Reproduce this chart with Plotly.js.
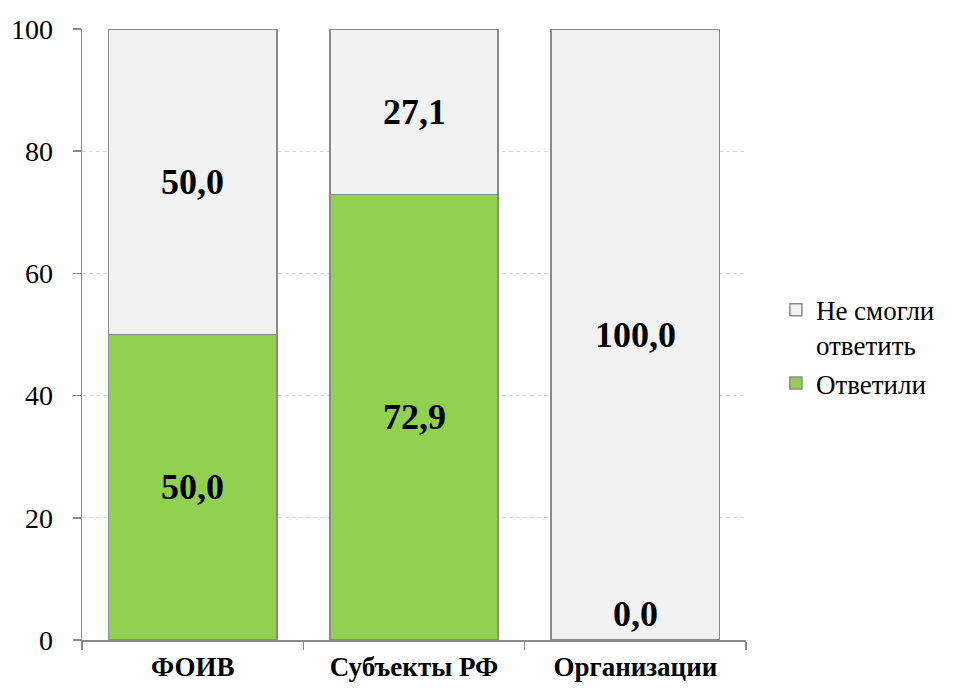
<!DOCTYPE html>
<html>
<head>
<meta charset="utf-8">
<script src="https://cdn.plot.ly/plotly-3.0.1.min.js"></script>
<style>html,body{margin:0;padding:0;background:#fff;}#chart{width:959px;height:693px;}</style>
</head>
<body>
<div id="chart"></div>
<script>
const categories = ["ФОИВ", "Субъекты РФ", "Организации"];
const answered = [50.0, 72.9, 0.0];
const notAnswered = [50.0, 27.1, 100.0];
const seriesNames = ["Ответили", "Не смогли<br>ответить"];
const yTicks = [0, 20, 40, 60, 80, 100];

const FONT = 'Times New Roman, Liberation Serif, DejaVu Serif';
const fmt = v => v.toFixed(1).replace('.', ',');

const traces = [
  {type: 'bar', x: categories, y: answered, name: seriesNames[0],
   marker: {color: '#92d050', line: {color: '#8a8a8a', width: 1.5}}, hoverinfo: 'none'},
  {type: 'bar', x: categories, y: notAnswered, name: seriesNames[1],
   marker: {color: '#f2f2f2', line: {color: '#8a8a8a', width: 1.5}}, hoverinfo: 'none'}
];

const annotations = [];
categories.forEach((c, i) => {
  let base = 0;
  [answered, notAnswered].forEach(arr => {
    const v = arr[i];
    if (v === 0) {
      annotations.push({x: c, y: base, yanchor: 'bottom', yshift: 4, text: '<b>' + fmt(v) + '</b>',
        showarrow: false, font: {family: FONT, size: 36, color: '#000'}});
    } else {
      annotations.push({x: c, y: base + v / 2, yanchor: 'middle', text: '<b>' + fmt(v) + '</b>',
        showarrow: false, font: {family: FONT, size: 36, color: '#000'}});
    }
    base += v;
  });
});

const layout = {
  width: 959, height: 693,
  margin: {l: 82, r: 213, t: 29, b: 53},
  barmode: 'stack', bargap: 0.24,
  paper_bgcolor: '#fff', plot_bgcolor: '#fff',
  font: {family: FONT, color: '#000'},
  xaxis: {
    type: 'category', showline: true, linecolor: '#8a8a8a', linewidth: 1.5,
    ticks: 'outside', tickson: 'boundaries', ticklen: 8, tickcolor: '#8a8a8a', tickwidth: 1.5,
    tickfont: {family: FONT, size: 27, color: '#000', weight: 'bold'},
    ticklabelstandoff: 2,
    showgrid: false, zeroline: false
  },
  yaxis: {
    range: [0, 100], tickvals: yTicks, ticktext: yTicks.map(String),
    showline: true, linecolor: '#8a8a8a', linewidth: 1.5,
    ticks: 'outside', ticklen: 8, tickcolor: '#8a8a8a', tickwidth: 1.5,
    tickfont: {family: FONT, size: 28, color: '#000'},
    ticklabelstandoff: 14,
    showgrid: true, gridcolor: '#d9d9d9', griddash: '4px,3px', gridwidth: 1, zeroline: false
  },
  legend: {
    x: 1.045, y: 0.48, xanchor: 'left', yanchor: 'middle', valign: 'top',
    traceorder: 'reversed', font: {family: FONT, size: 27, color: '#000'},
    itemwidth: 30, tracegroupgap: 4
  },
  annotations: annotations,
  showlegend: true
};

Plotly.newPlot('chart', traces, layout, {displayModeBar: false, staticPlot: true});
</script>
</body>
</html>
